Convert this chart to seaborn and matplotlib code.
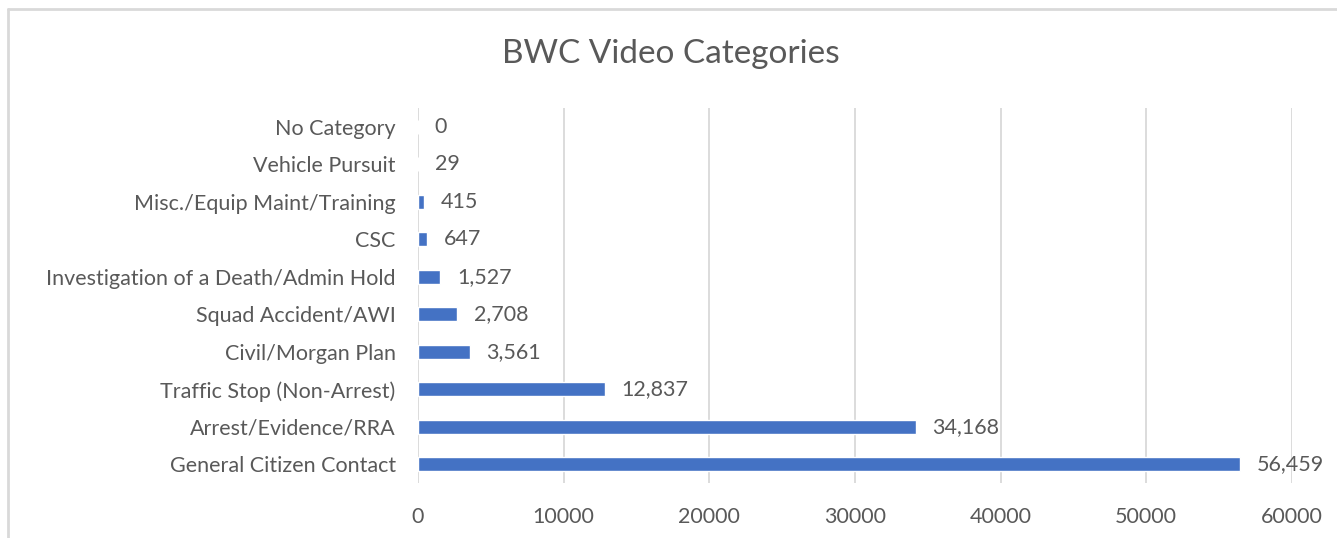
import matplotlib
matplotlib.use("Agg")
import matplotlib.pyplot as plt
import seaborn as sns
import pandas as pd
from matplotlib.lines import Line2D

sns.set_theme(style="white")
plt.rcParams["font.family"] = ["Lato", "DejaVu Sans"]

categories = ["No Category", "Vehicle Pursuit", "Misc./Equip Maint/Training", "CSC",
              "Investigation of a Death/Admin Hold", "Squad Accident/AWI",
              "Civil/Morgan Plan", "Traffic Stop (Non-Arrest)",
              "Arrest/Evidence/RRA", "General Citizen Contact"]
videos = [0, 29, 415, 647, 1527, 2708, 3561, 12837, 34168, 56459]
x_ticks = [0, 10000, 20000, 30000, 40000, 50000, 60000]

TEXT = "#595959"
GRID = "#D9D9D9"
BAR = "#4472C4"

df = pd.DataFrame({"category": categories, "videos": videos})

fig = plt.figure(figsize=(13.37, 5.38), dpi=100)
ax = fig.add_axes([0.3126, 0.1022, 0.6537, 0.6971])

sns.barplot(data=df, x="videos", y="category", order=categories, color=BAR,
            width=0.38, saturation=1, ax=ax)

ax.set_xlim(0, 60000)
ax.set_ylim(len(categories) - 0.5, -0.5)
ax.set_xticks(x_ticks)
ax.set_xticklabels([str(t) for t in x_ticks])
ax.grid(axis="x", color=GRID, linewidth=1.3)
ax.set_axisbelow(True)
for s in ax.spines.values():
    s.set_visible(False)
ax.tick_params(axis="x", length=0, pad=17, labelsize=15.5, labelcolor=TEXT)
ax.tick_params(axis="y", length=0, pad=16, labelsize=15.5, labelcolor=TEXT)
ax.set_xlabel("")
ax.set_ylabel("")

for i, v in enumerate(videos):
    ax.annotate(f"{v:,}", xy=(v, i), xytext=(12, 0), textcoords="offset points",
                va="center", ha="left", fontsize=15.5, color=TEXT)

fig.text(0.502, 0.90, "BWC Video Categories", ha="center", va="center",
         fontsize=24, color=TEXT)

# chart area border (top and left edges visible)
fig.add_artist(Line2D([8 / 1337, 1], [1 - 9 / 538, 1 - 9 / 538],
                      transform=fig.transFigure, color=GRID, linewidth=2))
fig.add_artist(Line2D([8 / 1337, 8 / 1337], [0, 1 - 9 / 538],
                      transform=fig.transFigure, color=GRID, linewidth=2))

fig.savefig("out.png", dpi=100)
